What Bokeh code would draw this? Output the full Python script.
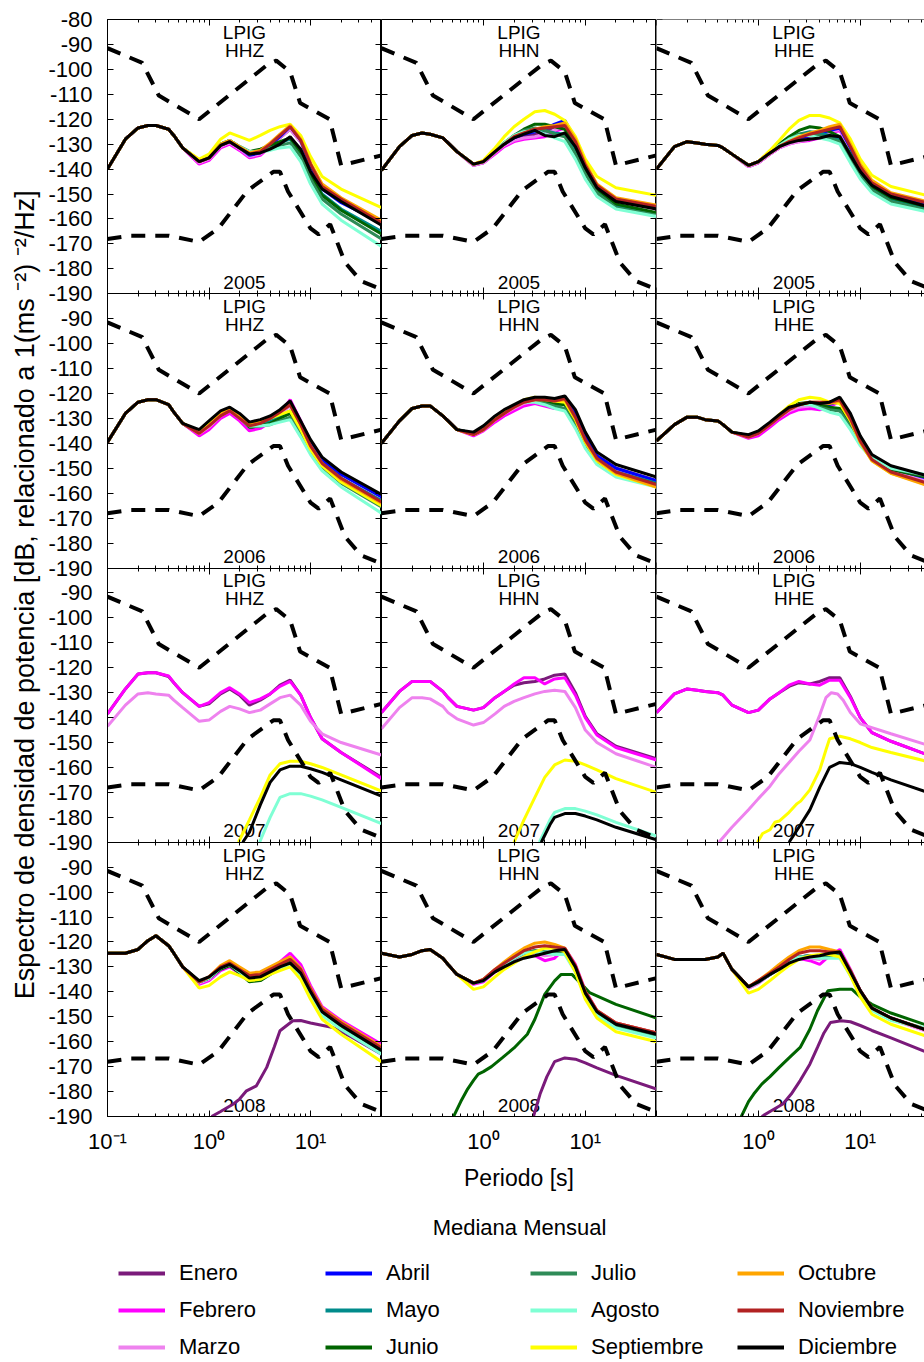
import math
from bokeh.plotting import figure
from bokeh.models import Range1d, LinearAxis, LogAxis, FixedTicker, Legend, LegendItem, Label
from bokeh.layouts import row, column
from bokeh.embed import file_html
from bokeh.resources import INLINE
from bokeh.core.properties import value

FONT = "Liberation Sans"

# ---------------------------------------------------------------- data
STATION = "LPIG"
YEARS = ["2005", "2006", "2007", "2008"]
CHANNELS = ["HHZ", "HHN", "HHE"]
MONTHS = ["Enero", "Febrero", "Marzo", "Abril", "Mayo", "Junio", "Julio",
          "Agosto", "Septiembre", "Octubre", "Noviembre", "Diciembre"]
COLORS = ["#7a1a7a", "#ff00ff", "#ee82ee", "#0000ff", "#008b8b", "#006400",
          "#2e8b57", "#7fffd4", "#ffff00", "#ffa500", "#b22222", "#000000"]

# period grid [s] of the monthly medians (first 8 = shared head, last 15 = per month)
PERIOD = [0.1, 0.15, 0.2, 0.25, 0.3, 0.4, 0.45, 0.55,
          0.8, 1.0, 1.3, 1.6, 2.0, 2.5, 3.2, 4.0, 5.0, 6.3, 8.0, 10, 13, 20, 50]

# Peterson noise models
NHNM_P = [0.1, 0.22, 0.32, 0.8, 3.8, 4.6, 6.3, 7.9, 15.4, 20.0, 50.0]
NHNM_DB = [-91.5, -97.4, -110.5, -120.0, -98.0, -96.5, -101.0, -113.5, -120.0, -138.5, -134.5]
NLNM_P = [0.1, 0.17, 0.4, 0.8, 1.24, 2.4, 4.3, 5.0, 6.0, 10, 12, 15.6, 21.9, 31.6, 45, 50]
NLNM_DB = [-168.0, -166.7, -166.7, -169.2, -163.7, -148.6, -141.1, -141.1, -149.0,
           -163.8, -166.2, -162.1, -177.5, -185.0, -187.5, -187.5]

# ---- 2005
HEAD_Z05 = [-140, -128, -123.5, -122.5, -122.5, -124, -126.5, -131.5]
Z05 = {
    "Enero": [-137.5, -136, -131, -129.5, -132, -135, -134, -131, -127.5, -124, -129, -138, -147, -152.5, -161.5],
    "Febrero": [-138, -136.5, -131.5, -130, -132.5, -135.5, -134.5, -131, -127, -123.5, -128.5, -138, -147, -152, -161],
    "Marzo": [-137.5, -136, -131, -129.5, -132, -135, -134, -131, -127.5, -124, -129, -138.5, -147.5, -153, -162],
    "Abril": [-137, -135.5, -130.5, -129, -131.5, -134.5, -133.5, -130.5, -127, -123, -128.5, -138.5, -148, -153.5, -161.5],
    "Mayo": [-136.5, -135, -130, -128.5, -131, -133, -132.5, -131, -129.5, -128, -133.5, -142, -150, -156, -165],
    "Junio": [-136.5, -135, -130, -128.5, -131, -133, -132, -130.5, -129, -127.5, -133.5, -142.5, -150.5, -156.5, -166],
    "Julio": [-136.5, -135, -130, -128.5, -131, -133, -132.5, -131.5, -130.5, -129.5, -135, -144, -152, -158, -168],
    "Agosto": [-136.5, -135, -130, -128.5, -131, -133, -133, -132.5, -131.5, -131, -137, -146, -154, -160.5, -171],
    "Septiembre": [-136, -134, -128, -125.5, -127, -128.5, -126.5, -124.5, -123, -122, -126.5, -135, -143, -148, -155.5],
    "Octubre": [-137, -135.5, -130, -128.5, -131, -133.5, -132.5, -129.5, -126, -122.5, -128, -137.5, -146, -151.5, -160.5],
    "Noviembre": [-137, -135.5, -130.5, -129, -131.5, -134, -133, -130, -126.5, -123, -128.5, -138, -147, -152, -161.5],
    "Diciembre": [-137, -135.5, -130.5, -129, -131.5, -134, -133.5, -132, -130, -127, -132, -141, -148, -153, -162.5],
}
HEAD_N05 = [-140.5, -131, -126.5, -125.5, -126, -127.5, -129.5, -133]
N05 = {
    "Enero": [-138.5, -137.5, -133.5, -130.5, -128, -127, -126, -125, -123, -121, -128.5, -138.5, -147, -152.5, -155.5],
    "Febrero": [-138.5, -137.5, -134, -131, -129, -128, -127.5, -127, -125, -123.5, -130, -139, -147, -152.5, -155.5],
    "Marzo": [-138.5, -137.5, -133.5, -130.5, -128.5, -127.5, -127, -126, -124.5, -122.5, -129, -138.5, -147, -152.5, -156],
    "Abril": [-138, -137, -133, -130, -127.5, -126, -125, -124, -122, -120.5, -128, -138, -146.5, -152, -155.5],
    "Mayo": [-138, -137, -133, -130, -127, -125, -124, -124.5, -125.5, -126, -133, -141, -149, -155, -158],
    "Junio": [-138, -137, -132.5, -129.5, -126.5, -124, -122, -122, -123, -124, -131, -140, -148, -154, -157.5],
    "Julio": [-138, -137, -133, -129.5, -126.5, -124.5, -123.5, -124.5, -126, -127, -134, -142, -149.5, -155.5, -158.5],
    "Agosto": [-138, -137, -133, -129.5, -126.5, -125, -124.5, -126, -127.5, -129, -136, -144, -151, -156, -159],
    "Septiembre": [-138, -136.5, -131.5, -127, -123, -120, -117, -116.5, -118, -120.5, -127, -136, -143, -147.5, -150.5],
    "Octubre": [-138, -137, -133, -130, -127, -125.5, -124, -123, -122.5, -121.5, -128, -137.5, -146, -151.5, -154.5],
    "Noviembre": [-138, -137, -133, -130, -127, -125.5, -124, -123.5, -123, -122.5, -129, -138.5, -146.5, -152, -155],
    "Diciembre": [-138, -137, -133, -130, -127.5, -126, -124.5, -126.5, -127, -125.5, -131, -139.5, -147.5, -153, -156],
}
HEAD_E05 = [-140, -131, -129, -129.5, -130, -130.5, -131.5, -134]
E05 = {
    "Enero": [-139, -137.5, -134, -131.5, -129.5, -128.5, -127.5, -126.5, -125, -123.5, -131.5, -140, -146, -150.5, -154.5],
    "Febrero": [-139, -137.5, -134, -131.5, -130, -129, -128.5, -127.5, -125.5, -124.5, -132, -140, -146, -150.5, -154.5],
    "Marzo": [-139, -137.5, -134, -131.5, -130, -129, -128, -127, -125.5, -124, -132, -140.5, -146.5, -151, -155],
    "Abril": [-138.5, -137, -133.5, -131, -129, -127.5, -126.5, -125.5, -124.5, -123.5, -131.5, -140, -146, -150.5, -155],
    "Mayo": [-138.5, -137, -133.5, -130.5, -128, -126, -125, -125.5, -126.5, -128, -135, -142, -148, -152.5, -156.5],
    "Junio": [-138.5, -137, -133, -130, -127, -124.5, -123, -123.5, -125, -127, -134, -141, -147, -151.5, -155.5],
    "Julio": [-138.5, -137, -133.5, -130.5, -128, -126, -125.5, -126.5, -127.5, -129, -136, -143, -148.5, -153, -157],
    "Agosto": [-138.5, -137, -133.5, -130.5, -128, -126.5, -126.5, -127.5, -128.5, -130, -137.5, -144, -149.5, -154, -157.5],
    "Septiembre": [-138.5, -137, -132.5, -128.5, -124, -120.5, -118.5, -118.5, -119.5, -121.5, -128, -136, -142.5, -147, -151],
    "Octubre": [-138.5, -137, -133.5, -131, -129, -127, -125.5, -124.5, -123, -122, -130, -138, -144.5, -149.5, -153.5],
    "Noviembre": [-138.5, -137, -133.5, -131, -129, -127.5, -126, -125, -124, -123, -131, -139, -145.5, -150, -154],
    "Diciembre": [-138.5, -137, -133.5, -131, -129.5, -128.5, -128, -127.5, -126.5, -127, -134.5, -141, -146.5, -151, -155.5],
}

# ---- 2006
HEAD_Z06 = [-139.5, -128, -123.5, -122.5, -122.5, -124.5, -127.5, -132]
Z06 = {
    "Enero": [-136.5, -134, -129.5, -127.5, -130.5, -134, -133, -131, -128, -124, -132, -140.5, -148, -154.5, -163.5],
    "Febrero": [-137, -134.5, -130, -128, -131, -135, -134, -131.5, -128, -122.5, -131, -140, -147.5, -154, -163],
    "Marzo": [-136, -133.5, -129, -127, -130, -133.5, -132.5, -130.5, -128, -125, -133, -141, -148.5, -155, -164],
    "Abril": [-135.5, -132.5, -128.5, -126.5, -129.5, -133, -132, -130, -127, -124, -131.5, -139.5, -146.5, -152.5, -161.5],
    "Mayo": [-135.5, -132.5, -128.5, -126.5, -129.5, -133, -132.5, -131, -129, -127, -134, -141.5, -148, -154, -163],
    "Junio": [-135.5, -132.5, -128, -126.5, -129.5, -133.5, -133, -132, -130, -128, -135, -142, -148.5, -154.5, -164],
    "Julio": [-135.5, -132.5, -128.5, -126.5, -129.5, -133, -133, -132.5, -131, -129.5, -136, -143, -149.5, -156, -165.5],
    "Agosto": [-135.5, -132.5, -128.5, -126.5, -129.5, -133, -133, -132.5, -131.5, -130.5, -137.5, -144.5, -151, -157.5, -168],
    "Septiembre": [-135, -132, -128, -126, -129, -132, -131.5, -130, -128.5, -127, -134.5, -142.5, -149, -155.5, -165],
    "Octubre": [-136, -133, -128.5, -126.5, -129.5, -132.5, -131.5, -129.5, -127, -124.5, -132.5, -141, -148, -154.5, -164],
    "Noviembre": [-136, -133, -129, -127, -130, -133, -132, -130, -127.5, -124.5, -132.5, -141, -148, -154, -163.5],
    "Diciembre": [-134.5, -131, -127, -125.5, -128, -131.5, -130.5, -129, -126.5, -123, -131, -138.5, -145.5, -151.5, -160.5],
}
HEAD_N06 = [-140, -131, -126, -125, -125, -129, -131, -134.5]
N06 = {
    "Enero": [-136, -134, -130, -127.5, -125.5, -123.5, -122.5, -123, -123.5, -122, -128, -137, -145, -150, -155],
    "Febrero": [-137, -135, -131.5, -129, -127, -125, -124, -125, -126, -122.5, -129, -138, -145.5, -150.5, -155.5],
    "Marzo": [-136.5, -134.5, -130.5, -128, -126, -124, -123, -123.5, -124, -123, -129.5, -138.5, -146, -151, -156],
    "Abril": [-136, -134, -130, -127.5, -125, -123, -122, -122.5, -123, -122, -128.5, -137.5, -145, -150, -155],
    "Mayo": [-136, -134, -130, -127.5, -125, -123, -122.5, -123.5, -124.5, -124, -131, -139.5, -146.5, -151.5, -156],
    "Junio": [-136, -134, -130, -127.5, -125, -123, -122.5, -123, -124, -124.5, -131.5, -140, -147, -152, -156.5],
    "Julio": [-136, -134, -130, -127.5, -125, -123, -123, -124, -125, -126, -133, -141, -147.5, -152.5, -157],
    "Agosto": [-136, -134, -130, -127.5, -125, -123.5, -123.5, -124.5, -126, -127, -134, -142, -148.5, -153.5, -157.5],
    "Septiembre": [-136.5, -134.5, -130.5, -127.5, -125, -122.5, -121.5, -122, -123, -123.5, -130.5, -139.5, -147, -152.5, -157.5],
    "Octubre": [-136.5, -134.5, -130.5, -128, -125.5, -123.5, -122.5, -122.5, -123, -122.5, -130, -139, -146.5, -152, -157.5],
    "Noviembre": [-136.5, -134.5, -130.5, -128, -125.5, -123.5, -122.5, -122.5, -123, -122, -129.5, -138.5, -146, -151.5, -156.5],
    "Diciembre": [-135.5, -133, -129, -126.5, -124.5, -122.5, -121.5, -121.5, -122, -121, -126.5, -135.5, -143.5, -148.5, -153.5],
}
HEAD_E06 = [-139, -132.5, -129.5, -129.5, -130.5, -131, -132.5, -135.5]
E06 = {
    "Enero": [-137.5, -136, -132.5, -129.5, -126.5, -125, -124.5, -125, -124.5, -122.5, -129.5, -138.5, -145.5, -150.5, -155],
    "Febrero": [-138, -137, -133.5, -130.5, -128, -126.5, -126, -126.5, -125.5, -123, -130, -139, -146, -151, -156],
    "Marzo": [-137.5, -136, -132.5, -129.5, -127, -125.5, -125, -125, -124.5, -123, -130, -139, -146, -151, -155.5],
    "Abril": [-137, -135.5, -132, -129, -126, -124.5, -124, -124.5, -124.5, -123, -129.5, -138, -145, -150, -154.5],
    "Mayo": [-137, -135.5, -132, -129, -126, -124.5, -124, -125, -126, -126, -132, -139.5, -145.5, -150, -153.5],
    "Junio": [-137, -135.5, -132, -129, -126, -124, -123.5, -124.5, -125.5, -126, -132.5, -140, -146, -150.5, -154],
    "Julio": [-137, -135.5, -132, -129, -126, -124.5, -124, -125.5, -126.5, -127, -133.5, -140.5, -146, -150, -153.5],
    "Agosto": [-137, -135.5, -132, -129, -126, -124.5, -124.5, -126, -127.5, -128.5, -134.5, -141, -146, -150, -153],
    "Septiembre": [-137, -135.5, -132, -128.5, -125, -122.5, -121.5, -122, -123.5, -124, -131, -139.5, -147, -152, -157],
    "Octubre": [-137.5, -136, -132.5, -129.5, -126.5, -124.5, -123.5, -123.5, -124, -123, -130.5, -139.5, -147, -152, -157.5],
    "Noviembre": [-137.5, -136, -132.5, -129.5, -126.5, -124.5, -123.5, -123.5, -123.5, -122.5, -130, -139, -146.5, -151.5, -156.5],
    "Diciembre": [-136.5, -135, -131.5, -128.5, -125.5, -124.5, -123.5, -124, -123.5, -121.5, -128, -137, -144.5, -149, -153.5],
}

# ---- 2007 (full 23-point curves, plus months that only appear at long periods)
Z07 = {
    "Enero": [-138.5, -128.5, -122.5, -122, -122, -123.5, -126, -130, -135.5, -134.5, -130.5, -128.5, -131, -135, -133, -130.5, -127, -125, -131, -140, -148.5, -154, -164],
    "Febrero": [-138.5, -128.5, -122.5, -122, -122, -123.3, -126, -130, -135.5, -134, -130, -128, -130.5, -134, -132.5, -130.5, -127.5, -125.5, -131, -140, -148.5, -154, -164.5],
    "Marzo": [-143.5, -135, -130.5, -130, -130.5, -131, -133, -136, -141.5, -141, -137.5, -135.5, -136.5, -138, -137, -134.5, -132, -131, -135, -141.5, -146.5, -150, -155],
}
Z07_LOW = {
    "Agosto": ([3.15, 4.0, 5.0, 6.3, 8.0, 10, 13, 20, 50],
               [-190, -180, -172, -170.5, -170.5, -171.5, -173, -176, -182.5]),
    "Septiembre": ([1.95, 2.5, 3.2, 4.0, 5.0, 6.3, 8.0, 10, 13, 20, 50],
                   [-190, -181, -172, -163, -158.5, -157.5, -157.5, -158.5, -160, -163, -169.5]),
    "Diciembre": ([2.15, 2.5, 3.2, 4.0, 5.0, 6.3, 8.0, 10, 13, 20, 50],
                  [-190, -186, -175, -166, -161, -159.5, -159.5, -160.5, -162, -165, -171.5]),
}
N07 = {
    "Enero": [-138, -129.5, -125.5, -125.5, -125.5, -129.5, -132, -135.5, -137, -136, -132, -129.5, -127, -126, -125.5, -124.5, -123, -122.5, -130, -139.5, -146.5, -151.5, -156.5],
    "Febrero": [-138, -129.5, -125.5, -125.5, -125.5, -129.5, -132, -135.5, -137, -136, -132, -129.5, -126.5, -124, -124, -126.5, -124.5, -124, -131, -140, -147, -152, -157],
    "Marzo": [-144.5, -136, -132, -132, -132.5, -135.5, -138, -140.5, -143, -142, -138.5, -135.5, -133.5, -132, -130.5, -129.5, -129, -129.5, -136, -145, -150, -154.5, -160],
}
N07_LOW = {
    "Agosto": ([3.55, 4.5, 5.0, 6.3, 8.0, 10, 13, 20, 50],
               [-190, -181, -178, -176.5, -176.5, -177.5, -179, -182, -187.5]),
    "Septiembre": ([2.0, 2.5, 3.2, 4.0, 5.0, 6.3, 8.0, 10, 13, 20, 50],
                   [-190, -181, -172, -164, -159, -157, -157.5, -159, -161, -164.5, -170]),
    "Diciembre": ([3.7, 4.5, 5.0, 6.3, 8.0, 10, 13, 20, 50],
                  [-190, -183, -180, -178.5, -178.5, -179.5, -181, -184, -189]),
}
E07 = {
    "Enero": [-138, -130.5, -128.5, -129, -129.5, -130, -131, -135, -138, -137, -132.5, -130, -127.5, -126, -126.5, -125.5, -124, -124, -131.5, -140, -146, -149.5, -155.5],
    "Febrero": [-138, -130.5, -128.5, -129, -129.5, -130, -131, -135, -138, -137, -132.5, -130, -127, -125.5, -126.5, -127, -125, -125, -132, -140, -146, -149.5, -155.5],
}
E07_LOW = {
    "Marzo": ([0.41, 0.55, 0.8, 1.0, 1.3, 1.6, 2.0, 2.5, 3.2, 4.0, 4.6, 5.2, 6.0, 6.8, 8.0, 10, 13, 20, 50],
              [-190, -184, -177, -172.5, -167.5, -162.5, -158, -153.5, -149, -139, -132, -130, -130.5, -133, -138, -142.5, -144, -146.5, -151.5]),
    "Septiembre": ([0.98, 1.1, 1.3, 1.45, 1.6, 2.0, 2.4, 2.6, 3.2, 4.0, 4.6, 5.0, 6.3, 8.0, 10, 13, 20, 50],
                   [-190, -186.5, -185, -182, -181.5, -178, -174.5, -173.5, -169, -161, -153, -148.5, -147.5, -148.5, -150, -152, -154, -158]),
    "Diciembre": ([2.0, 2.5, 3.2, 4.0, 5.0, 6.3, 8.0, 10, 13, 20, 50],
                  [-190, -184, -177, -168, -160, -158, -158.5, -160, -162, -165, -170.5]),
}

# ---- 2008
HEAD_Z08 = [-124.5, -124.5, -123, -119.5, -117.5, -121.5, -124.5, -130]
Z08 = {
    "Febrero": [-137, -135.5, -131.5, -130, -132.5, -135.5, -134.5, -131.5, -128, -124.5, -129, -137.5, -146, -151.5, -161],
    "Marzo": [-136.5, -135, -131, -129.5, -132, -135, -134.5, -132, -129, -126, -130.5, -139, -147, -152.5, -162],
    "Abril": [-136, -134.5, -130.5, -129, -131.5, -134.5, -134, -132, -130, -127.5, -131.5, -139.5, -147.5, -153, -163],
    "Mayo": [-136, -134.5, -130.5, -129, -132, -135, -134.5, -132.5, -130.5, -128, -132, -140, -148, -153.5, -163.5],
    "Junio": [-136, -134.5, -131, -129.5, -132.5, -136, -135.5, -133, -130.5, -128, -132.5, -140.5, -148.5, -154, -164],
    "Julio": [-136, -134.5, -130.5, -129, -132, -135, -134.5, -132.5, -130.5, -128.5, -133, -141, -149, -154.5, -164.5],
    "Agosto": [-136, -134.5, -130.5, -129, -132, -135, -134.5, -132.5, -130.5, -129, -133.5, -141.5, -149.5, -155, -165],
    "Septiembre": [-138.5, -137.5, -134, -132, -133.5, -135.5, -135, -133, -131.5, -130, -135, -143, -151, -157, -168],
    "Octubre": [-136, -134, -129.5, -127.5, -130, -132.5, -132, -130, -128, -126, -130.5, -138.5, -146.5, -152, -162],
    "Noviembre": [-136, -134, -130, -128.5, -131, -133.5, -133, -131, -129, -127, -131, -139, -147, -152.5, -162.5],
    "Diciembre": [-135.5, -134, -130.5, -129, -131.5, -134.5, -134, -132, -130, -128.5, -132.5, -140, -148, -153.5, -163.5],
}
Z08_LOW = {
    "Enero": ([1.06, 1.3, 1.74, 2.0, 2.34, 2.93, 3.7, 4.4, 5.0, 6.7, 8.0, 10, 16.6, 25, 50],
              [-190, -188, -185, -183, -179.7, -177.7, -170.3, -162, -155.6, -151.6, -151.5, -152.5, -154.3, -158, -165]),
}
HEAD_N08 = [-124.5, -126, -125, -123.5, -123, -126.5, -129, -133]
N08 = {
    "Febrero": [-137, -136, -132, -129.5, -127.5, -125.5, -125.5, -127.5, -126.5, -122.5, -129, -139.5, -147.5, -152.5, -156.5],
    "Marzo": [-136.5, -135.5, -131.5, -129, -127, -125, -124.5, -125.5, -125, -123.5, -130, -140.5, -148, -153, -157],
    "Abril": [-136.5, -135.5, -131.5, -129, -126.5, -124.5, -124, -124.5, -124, -123.5, -130, -140.5, -148, -153, -157],
    "Mayo": [-136.5, -135.5, -131.5, -129, -126.5, -124.5, -123.5, -124, -124, -124, -131, -141, -148.5, -153.5, -157.5],
    "Julio": [-136.5, -135.5, -131.5, -129, -126.5, -124.5, -123.5, -124, -124.5, -124.5, -131.5, -141.5, -149, -154, -158],
    "Agosto": [-136.5, -135.5, -131.5, -129, -126.5, -124.5, -124, -124.5, -125, -125, -132, -142, -149.5, -154.5, -158.5],
    "Septiembre": [-139, -138, -134, -131, -128.5, -126, -124, -122.5, -122.5, -124, -132, -143, -150.5, -156, -160],
    "Octubre": [-136.5, -135, -131, -128, -125, -122.5, -120.5, -120, -121, -122.5, -129.5, -140, -147.5, -152.5, -156.5],
    "Noviembre": [-136.5, -135, -131, -128.5, -126, -123.5, -122, -121.5, -122, -122.5, -129.5, -140, -147.5, -152.5, -156.5],
    "Diciembre": [-136.5, -135.5, -132, -130, -128, -126.5, -125.5, -124.5, -123.5, -123, -130, -140.5, -148, -153, -157],
}
N08_LOW = {
    "Enero": ([3.1, 3.6, 4.2, 5.0, 6.3, 8.0, 10, 13, 20, 50],
              [-190, -181, -174, -168, -166.5, -167, -168.5, -170.5, -173.5, -179]),
    "Junio": ([0.51, 0.6, 0.7, 0.8, 0.89, 1.0, 1.2, 1.55, 2.0, 2.7, 3.2, 4.0, 5.0, 5.8, 7.4, 8.5, 11, 20, 50],
              [-190, -184, -179, -175.5, -173, -172, -170, -166.3, -162.5, -157, -151, -141, -135.6, -133, -133, -135.5, -140.3, -145, -150.5]),
}
HEAD_E08 = [-125, -127, -127, -127, -127, -126, -124.5, -131]
E08 = {
    "Febrero": [-138.5, -136.5, -133, -130.5, -128, -126.5, -127.5, -129, -125.5, -123, -131, -139.5, -146.5, -150.5, -156],
    "Marzo": [-138.5, -136.5, -133, -130.5, -128, -126.5, -126.5, -127, -125.5, -124, -131.5, -140, -147, -151, -156.5],
    "Abril": [-138, -136, -133, -130.5, -127.5, -126, -125.5, -126, -125, -124, -131.5, -139.5, -146.5, -150.5, -156],
    "Mayo": [-138, -136, -133, -130.5, -127.5, -126, -125.5, -125.5, -125.5, -125, -132, -140, -147, -151, -155.5],
    "Julio": [-138, -136, -133, -130.5, -127.5, -126, -125.5, -126, -126, -125.5, -132.5, -140.5, -147, -151, -155.5],
    "Agosto": [-138, -136, -133, -130.5, -127.5, -126, -126, -126.5, -126.5, -126.5, -133.5, -141, -147.5, -151.5, -155],
    "Septiembre": [-140.5, -139, -135.5, -132.5, -129.5, -127, -125.5, -125, -125, -126, -133.5, -142, -149, -153, -158.5],
    "Octubre": [-138, -135.5, -132, -129, -126, -123.5, -122, -122, -123, -124, -131.5, -139.5, -146.5, -150.5, -156],
    "Noviembre": [-138, -135.5, -132.5, -130, -127, -124.5, -123.5, -123.5, -124, -124, -131.5, -139.5, -146.5, -150.5, -156],
    "Diciembre": [-138, -136, -133, -131, -128.5, -127, -126, -125.5, -124.5, -124, -132, -139.5, -146.5, -150.5, -156],
}
E08_LOW = {
    "Enero": ([1.08, 1.3, 1.74, 2.1, 2.57, 3.2, 3.8, 4.4, 5.1, 6.5, 8.0, 10, 13, 20, 50],
              [-190, -188, -185, -181, -175.6, -169, -162.3, -156.5, -152.3, -151.6, -152, -153.5, -155.5, -158.5, -165]),
    "Junio": ([0.68, 0.8, 0.9, 1.08, 1.3, 1.6, 2.0, 2.57, 3.2, 3.8, 4.8, 6.3, 8.3, 10, 13, 20, 50],
              [-190, -184, -181, -177, -174, -170.3, -166.5, -162.3, -155, -147.6, -139.6, -139, -139, -142, -145, -148.5, -154]),
}

PANELS = {
    ("2005", "HHZ"): (HEAD_Z05, Z05, {}), ("2005", "HHN"): (HEAD_N05, N05, {}), ("2005", "HHE"): (HEAD_E05, E05, {}),
    ("2006", "HHZ"): (HEAD_Z06, Z06, {}), ("2006", "HHN"): (HEAD_N06, N06, {}), ("2006", "HHE"): (HEAD_E06, E06, {}),
    ("2007", "HHZ"): (None, Z07, Z07_LOW), ("2007", "HHN"): (None, N07, N07_LOW), ("2007", "HHE"): (None, E07, E07_LOW),
    ("2008", "HHZ"): (HEAD_Z08, Z08, Z08_LOW), ("2008", "HHN"): (HEAD_N08, N08, N08_LOW), ("2008", "HHE"): (HEAD_E08, E08, E08_LOW),
}

DB_MIN, DB_MAX = -190, -80
X_TICKS = [0.1, 1.0, 10.0]
X_LABELS = {0.1: "10\u207b\u00b9", 1.0: "10\u2070", 10.0: "10\u00b9"}
YLABEL = "Espectro de densidad de potencia [dB, relacionado a  1(ms \u207b\u00b2) \u207b\u00b2/Hz]"
XLABEL = "Periodo [s]"
LEGEND_TITLE = "Mediana Mensual"

# ---------------------------------------------------------------- layout
NROW = 4
SPAN = DB_MAX - DB_MIN                      # 110 dB per panel
STACK_MIN = DB_MIN - SPAN * (NROW - 1)      # bottom of the 4 stacked panels
XMAX = [50.0, 50.0, 42.7]
FRAME_W = [274, 275, 268]
FRAME_H = 1097
TOP, BOTTOM = 19, 80
STRIP_W, LEFT0 = 42, 65
FIG_H = TOP + FRAME_H + BOTTOM
YLABEL_CENTER = 623                          # px from the top of the page
X_CENTER = math.sqrt(0.1 * 50.0)
X_MINOR = [m * 10.0 ** e for e in (-1, 0, 1) for m in range(2, 10)]
STACK_TICKS = list(range(STACK_MIN, DB_MAX + 1, 10))
BOUNDS = [DB_MIN - SPAN * k for k in range(NROW - 1)]


def stack_label(t):
    v = t
    while v < DB_MIN:
        v += SPAN
    return str(v)


def y_axis(fixed, labels):
    ax = LinearAxis(ticker=FixedTicker(ticks=STACK_TICKS), fixed_location=fixed,
                    major_tick_in=6, major_tick_out=0, minor_tick_in=0, minor_tick_out=0,
                    axis_line_color="black", major_tick_line_color="black")
    if labels is None:
        ax.major_label_text_color = None
    else:
        ax.major_label_overrides = labels
        ax.major_label_text_font = FONT
        ax.major_label_text_font_size = "22px"
        ax.major_label_text_color = "black"
        ax.major_label_standoff = 15
    return ax


def x_axis(fixed, labels, title=None):
    ax = LogAxis(ticker=FixedTicker(ticks=X_TICKS, minor_ticks=X_MINOR), fixed_location=fixed,
                 major_tick_in=6, major_tick_out=0, minor_tick_in=3, minor_tick_out=0,
                 axis_line_color="black", major_tick_line_color="black", minor_tick_line_color="black")
    if labels is None:
        ax.major_label_text_color = None
    else:
        ax.major_label_overrides = labels
        ax.major_label_text_font = FONT
        ax.major_label_text_font_size = "22px"
        ax.major_label_text_color = "black"
        ax.major_label_standoff = 12
    if title:
        ax.axis_label = title
        ax.axis_label_text_font = FONT
        ax.axis_label_text_font_size = "23px"
        ax.axis_label_text_font_style = "normal"
        ax.axis_label_text_color = "black"
        ax.axis_label_standoff = 8
    return ax


def make_column(c):
    ch = CHANNELS[c]
    left = LEFT0 if c == 0 else 0
    p = figure(width=left + FRAME_W[c], height=FIG_H,
               x_axis_type="log", x_range=Range1d(0.1, XMAX[c]), y_range=Range1d(STACK_MIN, DB_MAX),
               x_axis_location=None, y_axis_location=None, toolbar_location=None,
               output_backend="svg", min_border_left=left, min_border_right=0,
               min_border_top=TOP, min_border_bottom=BOTTOM,
               outline_line_color="black" if c < 2 else None)
    p.grid.visible = False
    # one y range per stacked panel (row k shows DB_MIN..DB_MAX in its quarter)
    p.extra_y_ranges = {f"r{k}": Range1d(DB_MIN - SPAN * (NROW - 1 - k), DB_MAX + SPAN * k)
                        for k in range(NROW)}

    for k, year in enumerate(YEARS):
        rn = f"r{k}"
        for txt, yy in ((STATION, -85.2), (ch, -92.4), (year, -185.4)):
            p.text(x=[X_CENTER], y=[yy], text=[txt], text_font=value(FONT), text_font_size="19px",
                   text_align="center", text_baseline="middle", text_color="black", y_range_name=rn)
        head, main, low = PANELS[(year, ch)]
        for i, m in enumerate(MONTHS):
            if m in main:
                vals = main[m] if head is None else head + main[m]
                p.line(PERIOD, vals, line_color=COLORS[i], line_width=3, y_range_name=rn)
            elif m in low:
                ps, vs = low[m]
                p.line(ps, vs, line_color=COLORS[i], line_width=3, y_range_name=rn)
        p.line(NHNM_P, NHNM_DB, line_color="black", line_width=4, line_dash="14 10", y_range_name=rn)
        p.line(NLNM_P, NLNM_DB, line_color="black", line_width=4, line_dash="14 10", y_range_name=rn)

    # y axes
    if c == 0:
        p.add_layout(y_axis(None, {t: stack_label(t) for t in STACK_TICKS}), "left")
    else:
        p.add_layout(y_axis(0.1, None), "left")
    if c < 2:
        p.add_layout(y_axis(XMAX[c], None), "right")
    # x axes: top, panel boundaries, bottom
    p.add_layout(x_axis(DB_MAX, None), "above")
    for b in BOUNDS:
        p.add_layout(x_axis(b, None), "below")
        p.add_layout(x_axis(b, None), "above")
    lab = dict(X_LABELS)
    if c > 0:
        lab[0.1] = ""
    p.add_layout(x_axis(None, lab, XLABEL if c == 1 else None), "below")
    return p


# y-title strip
lab_fig = figure(width=STRIP_W, height=FIG_H, x_range=Range1d(0, STRIP_W), y_range=Range1d(0, FIG_H),
                 x_axis_location=None, y_axis_location=None, toolbar_location=None,
                 output_backend="svg", min_border=0, outline_line_color=None)
lab_fig.grid.visible = False
lab_fig.add_layout(Label(x=24, y=FIG_H - YLABEL_CENTER, text=YLABEL, angle=math.pi / 2, text_align="center",
                         text_baseline="middle", text_font=FONT, text_font_size="27px",
                         text_color="black"))

grid = row(lab_fig, *[make_column(c) for c in range(3)])

# legend strip
LEG_H = 1362 - FIG_H
leg_fig = figure(width=924, height=LEG_H, x_range=Range1d(0, 924), y_range=Range1d(0, LEG_H),
                 x_axis_location=None, y_axis_location=None, toolbar_location=None,
                 output_backend="svg", min_border=0, outline_line_color=None)
leg_fig.grid.visible = False
NAN = float("nan")
rends = [leg_fig.line(x=[NAN], y=[NAN], line_color=COLORS[i], line_width=4) for i in range(12)]
LEG_X = [118, 325, 530, 737]
for k in range(4):
    items = [LegendItem(label=MONTHS[3 * k + j], renderers=[rends[3 * k + j]]) for j in range(3)]
    leg = Legend(items=items, location=(LEG_X[k], 2), orientation="vertical", padding=0, margin=0,
                 spacing=11, glyph_width=47, glyph_height=26, label_height=26, label_width=60,
                 label_standoff=14, label_text_font=FONT, label_text_font_size="22px",
                 label_text_color="black", border_line_color=None, background_fill_alpha=0)
    leg_fig.add_layout(leg)
leg_fig.add_layout(Label(x=519, y=LEG_H - 31, text=LEGEND_TITLE, text_align="center", text_baseline="middle",
                         text_font=FONT, text_font_size="22px", text_color="black"))

layout = column(grid, leg_fig)

open("out.html", "w").write(file_html(layout, INLINE, title="LPIG"))
